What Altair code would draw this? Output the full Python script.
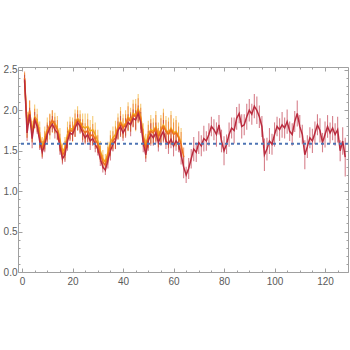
import altair as alt
import pandas as pd

# ---- data ----
red_v = [2.38,1.72,1.95,1.65,1.88,1.80,1.62,1.48,1.58,1.70,
         1.78,1.83,1.76,1.72,1.55,1.40,1.45,1.62,1.72,1.70,
         1.78,1.85,1.80,1.72,1.66,1.70,1.62,1.65,1.58,1.52,
         1.40,1.30,1.26,1.38,1.50,1.58,1.62,1.75,1.80,1.72,
         1.78,1.85,1.82,1.90,1.88,1.96,1.85,1.60,1.45,1.62,
         1.70,1.66,1.72,1.60,1.68,1.74,1.62,1.58,1.64,1.56,
         1.62,1.58,1.45,1.30,1.20,1.28,1.40,1.52,1.48,1.60,
         1.56,1.65,1.62,1.70,1.80,1.76,1.70,1.82,1.62,1.50,
         1.58,1.70,1.78,1.75,1.90,1.96,1.80,1.82,1.92,2.00,
         1.95,2.05,2.00,1.92,1.80,1.45,1.52,1.62,1.58,1.70,
         1.80,1.76,1.82,1.78,1.86,1.74,1.70,1.86,1.96,1.80,
         1.70,1.45,1.55,1.66,1.62,1.72,1.82,1.75,1.60,1.70,
         1.80,1.72,1.78,1.70,1.76,1.50,1.62,1.42]
red_e = [0.06,0.10,0.08,0.12,0.10,0.09,0.11,0.08,0.10,0.12,
         0.09,0.10,0.11,0.08,0.10,0.07,0.09,0.12,0.10,0.08,
         0.11,0.10,0.09,0.12,0.08,0.10,0.11,0.09,0.10,0.08,
         0.09,0.07,0.06,0.10,0.12,0.09,0.10,0.11,0.13,0.10,
         0.12,0.10,0.14,0.11,0.12,0.10,0.13,0.12,0.09,0.12,
         0.14,0.10,0.13,0.11,0.12,0.14,0.10,0.12,0.11,0.13,
         0.12,0.10,0.12,0.14,0.10,0.13,0.12,0.15,0.12,0.14,
         0.13,0.16,0.12,0.14,0.12,0.13,0.15,0.12,0.14,0.18,
         0.12,0.15,0.13,0.16,0.14,0.12,0.15,0.13,0.16,0.14,
         0.13,0.15,0.17,0.14,0.13,0.20,0.14,0.16,0.13,0.15,
         0.12,0.14,0.16,0.13,0.15,0.12,0.14,0.13,0.16,0.14,
         0.12,0.18,0.14,0.13,0.15,0.14,0.13,0.15,0.12,0.16,
         0.14,0.13,0.15,0.14,0.16,0.13,0.17,0.24]

orange_v = [2.40,1.80,2.00,1.70,1.90,1.84,1.66,1.52,1.62,1.74,
            1.82,1.88,1.82,1.76,1.60,1.44,1.50,1.66,1.75,1.74,
            1.82,1.88,1.84,1.76,1.72,1.75,1.68,1.70,1.64,1.58,
            1.46,1.36,1.32,1.44,1.56,1.62,1.66,1.78,1.84,1.78,
            1.82,1.90,1.86,1.94,1.92,2.00,1.90,1.66,1.52,1.68,
            1.74,1.72,1.78,1.66,1.75,1.80,1.74,1.70,1.76,1.70,
            1.72,1.66,1.58,1.42]
orange_e = [0.08,0.14,0.12,0.10,0.12,0.11,0.13,0.10,0.12,0.11,
            0.13,0.12,0.10,0.12,0.11,0.09,0.12,0.13,0.11,0.12,
            0.14,0.12,0.11,0.13,0.12,0.14,0.11,0.13,0.12,0.11,
            0.10,0.09,0.08,0.11,0.13,0.12,0.14,0.13,0.15,0.12,
            0.13,0.15,0.12,0.14,0.16,0.15,0.13,0.11,0.12,0.14,
            0.15,0.13,0.16,0.12,0.15,0.17,0.14,0.16,0.18,0.15,
            0.16,0.14,0.15,0.12]

yellow_v = [2.36,1.82,1.98,1.74,1.92,1.88,1.70,1.55,1.66,1.76,
            1.80,1.86,1.84,1.78,1.64,1.48,1.54,1.70,1.78,1.76,
            1.84,1.90,1.86,1.80,1.78,1.80,1.74,1.76,1.70,1.62,
            1.50,1.40,1.36,1.48,1.60,1.66,1.70,1.80,1.86,1.80,
            1.84,1.92,1.88,1.96,1.94,2.02,1.92,1.70,1.56,1.70,
            1.76,1.74,1.80,1.70,1.76,1.82,1.76,1.72,1.78,1.72,
            1.74,1.68,1.60]
yellow_e = [0.10,0.16,0.14,0.13,0.15,0.14,0.16,0.12,0.14,0.15,
            0.16,0.14,0.13,0.15,0.14,0.11,0.13,0.16,0.14,0.15,
            0.17,0.15,0.14,0.16,0.18,0.16,0.14,0.17,0.15,0.14,
            0.12,0.11,0.10,0.13,0.15,0.14,0.17,0.16,0.18,0.15,
            0.16,0.18,0.15,0.17,0.20,0.18,0.16,0.14,0.15,0.17,
            0.18,0.16,0.19,0.15,0.18,0.20,0.17,0.19,0.21,0.18,
            0.19,0.17,0.18]

reference_level = [1.585]

x_ticks = list(range(0, 130, 5))
y_ticks = [round(k * 0.1, 1) for k in range(26)]

COL_Y = "#F0A81C"
COL_O = "#EE6E1E"
COL_R = "#BA2B3E"


def frame(vals, errs, name):
    rows = []
    for k, (v, e) in enumerate(zip(vals, errs), start=1):
        rows.append({"series": name, "i": k, "v": v, "lo": v - e, "hi": v + e})
    return pd.DataFrame(rows)


dy = frame(yellow_v, yellow_e, "yellow")
do = frame(orange_v, orange_e, "orange")
dr = frame(red_v, red_e, "red")

xs = alt.Scale(domain=[-1.6, 129.1], nice=False, zero=False)
ys = alt.Scale(domain=[0, 2.535], nice=False, zero=False)

AX = dict(domainColor="#a0a0a0", tickColor="#a0a0a0", labelColor="#5a5a5a",
          labelFont="Liberation Sans", labelFontSize=10, grid=False, title=None,
          domainWidth=1, tickWidth=1)

x_tick_size = {"condition": {"test": "datum.value % 20 === 0", "value": -4}, "value": -2}
y_tick_size = {"condition": {"test": "abs(datum.value * 2 - round(datum.value * 2)) < 0.001",
                             "value": -4}, "value": -2}

x_bottom = alt.Axis(orient="bottom", values=x_ticks,
                    labelExpr="datum.value % 20 === 0 ? datum.label : ''",
                    tickSize=x_tick_size, labelPadding=8, **AX)
y_left = alt.Axis(orient="left", values=y_ticks, format=".1f",
                  labelExpr="abs(datum.value * 2 - round(datum.value * 2)) < 0.001 ? datum.label : ''",
                  tickSize=y_tick_size, labelPadding=5, **AX)
x_top = alt.Axis(orient="top", values=x_ticks, labels=False, tickSize=x_tick_size, **AX)
y_right = alt.Axis(orient="right", values=y_ticks, labels=False, tickSize=y_tick_size, **AX)


def bars(df, color):
    return alt.Chart(df).mark_rule(color=color, strokeWidth=1.1, opacity=0.6).encode(
        x=alt.X("i:Q", scale=xs, axis=None),
        y=alt.Y("lo:Q", scale=ys, axis=None),
        y2="hi:Q",
    )


def line(df, color, xa=None, ya=None):
    return alt.Chart(df).mark_line(color=color, strokeWidth=1.5).encode(
        x=alt.X("i:Q", scale=xs, axis=xa),
        y=alt.Y("v:Q", scale=ys, axis=ya),
    )


rule = alt.Chart(pd.DataFrame({"y": reference_level})).mark_rule(
    color="#4E74B4", strokeDash=[3, 3], strokeWidth=2
).encode(y=alt.Y("y:Q", scale=ys, axis=None))

chart = alt.layer(
    bars(dy, COL_Y), bars(do, COL_O), bars(dr, COL_R),
    line(dy, COL_Y, x_top, y_right),
    line(do, COL_O),
    line(dr, COL_R, x_bottom, y_left),
    rule,
).resolve_axis(x="independent", y="independent").properties(
    width=330, height=205,
    padding={"left": 18, "top": 67, "right": 2, "bottom": 78},
    autosize="none",
).configure_view(stroke=None).configure(background="white")

chart.save("out.html", embed_options={"renderer": "svg", "actions": False})
